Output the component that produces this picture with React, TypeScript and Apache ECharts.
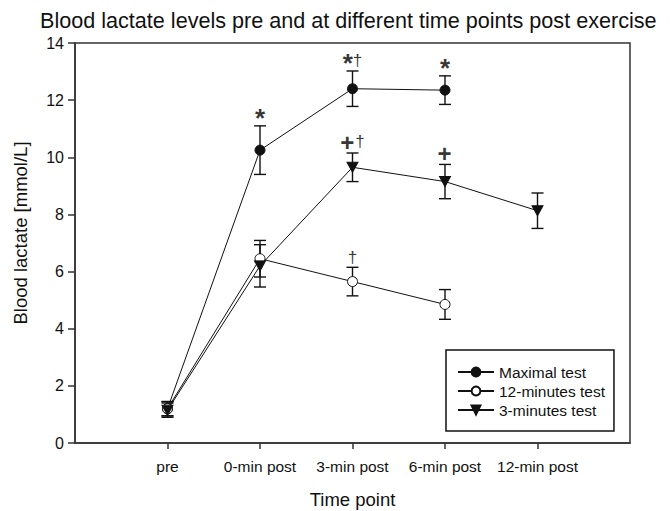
import React, { useEffect, useRef } from "react";
import * as echarts from "echarts";

const categories = ["pre", "0-min post", "3-min post", "6-min post", "12-min post"];
const seriesNames = ["Maximal test", "12-minutes test", "3-minutes test"];
const maximalMean = [1.2, 10.25, 12.4, 12.35, null];
const maximalErr = [0.25, 0.85, 0.62, 0.5, null];
const twelveMean = [1.2, 6.45, 5.65, 4.85, null];
const twelveErr = [0.25, 0.64, 0.5, 0.52, null];
const threeMean = [1.15, 6.2, 9.65, 9.15, 8.13];
const threeErr = [0.25, 0.74, 0.5, 0.6, 0.62];
const yTicks = [0, 2, 4, 6, 8, 10, 12, 14];
// annotation marks: [seriesIndex, categoryIndex, text]
const annotations: [number, number, string][] = [
  [0, 1, "{s|*}"],
  [0, 2, "{s|*}{d|†}"],
  [0, 3, "{s|*}"],
  [2, 2, "{p|+}{d|†}"],
  [2, 3, "{p|+}"],
  [1, 2, "{d|†}"],
];

const FONT = "Liberation Sans, Arial, sans-serif";
const INK = "#111";

export default function App() {
  const ref = useRef<HTMLDivElement>(null);
  useEffect(() => {
    if (!ref.current) return;
    const chart = echarts.init(ref.current, undefined, { renderer: "svg" });
    const axisData = ["", ...categories, ""];
    const pad = (arr: (number | null)[]) => [null, ...arr, null];
    const means = [maximalMean, twelveMean, threeMean];
    const errs = [maximalErr, twelveErr, threeErr];
    const symbols = ["circle", "circle", "path://M0,0 L10,0 L5,9 Z"];
    const fills = [INK, "#fff", INK];

    const lineSeries = seriesNames.map((name, si) => ({
      name,
      type: "line",
      data: pad(means[si]),
      symbol: symbols[si],
      symbolSize: si === 2 ? [11, 10] : 10,
      lineStyle: { color: INK, width: 1 },
      itemStyle: { color: fills[si], borderColor: INK, borderWidth: 1 },
      z: 5,
      silent: true,
    }));

    const errData: number[][] = [];
    means.forEach((m, si) =>
      m.forEach((v, i) => {
        if (v !== null && errs[si][i] !== null) errData.push([i + 1, v, errs[si][i] as number]);
      })
    );

    const errSeries = {
      type: "custom",
      data: errData,
      encode: { x: 0, y: 1 },
      z: 3,
      silent: true,
      renderItem: (params: any, api: any) => {
        const x = api.value(0);
        const y = api.value(1);
        const e = api.value(2);
        const t = api.coord([x, y + e]);
        const b = api.coord([x, y - e]);
        const hw = 6;
        const style = { stroke: INK, lineWidth: 1.4 };
        return {
          type: "group",
          children: [
            { type: "line", shape: { x1: t[0], y1: t[1], x2: b[0], y2: b[1] }, style },
            { type: "line", shape: { x1: t[0] - hw, y1: t[1], x2: t[0] + hw, y2: t[1] }, style },
            { type: "line", shape: { x1: b[0] - hw, y1: b[1], x2: b[0] + hw, y2: b[1] }, style },
          ],
        };
      },
    };

    const annSeries = {
      type: "scatter",
      symbolSize: 0,
      silent: true,
      z: 6,
      itemStyle: { color: INK },
      data: annotations.map(([si, ci, text]) => ({
        value: [ci + 1, (means[si][ci] as number) + (errs[si][ci] as number)],
        name: text,
      })),
      label: {
        show: true,
        position: "top",
        distance: 1,
        color: INK,
        textBorderWidth: 0,
        formatter: (p: any) => p.name,
        rich: {
          s: { fontSize: 26, fontFamily: FONT, color: "#000", fontWeight: "bold", padding: [0, 0, -6, 0] },
          p: { fontSize: 24, fontFamily: FONT, color: "#000", fontWeight: "bold", padding: [0, 1, -2, 0] },
          d: { fontSize: 17, fontFamily: FONT, color: "#000" },
        },
      },
    };

    chart.setOption({
      animation: false,
      backgroundColor: "#fff",
      title: {
        text: "Blood lactate levels pre and at different time points post exercise",
        left: 35,
        top: 4,
        textStyle: { fontFamily: FONT, fontSize: 21.6, fontWeight: "normal", color: INK },
      },
      grid: {
        left: 75,
        right: 40,
        top: 43,
        bottom: 68,
        show: true,
        borderColor: "#333",
        borderWidth: 1.5,
        backgroundColor: "transparent",
        outerBoundsMode: "none",
        containLabel: false,
      },
      legend: {
        data: seriesNames,
        orient: "vertical",
        left: 446,
        top: 350,
        padding: [14, 9, 13, 11],
        borderColor: INK,
        borderWidth: 1.5,
        itemWidth: 36,
        itemHeight: 11,
        itemGap: 3,
        selectedMode: false,
        textStyle: { fontFamily: FONT, fontSize: 15.5, color: INK, lineHeight: 16 },
      },
      xAxis: {
        type: "category",
        data: axisData,
        boundaryGap: false,
        name: "Time point",
        nameLocation: "middle",
        nameGap: 47,
        nameTextStyle: { fontFamily: FONT, fontSize: 18.5, color: INK },
        axisLine: { lineStyle: { color: "#333", width: 1.5 } },
        axisTick: {
          show: true,
          length: 6,
          lineStyle: { color: "#333", width: 1.5 },
          interval: (idx: number, val: string) => val !== "",
        },
        axisLabel: {
          fontFamily: FONT,
          fontSize: 15.5,
          color: INK,
          margin: 15,
          interval: 0,
        },
        splitLine: { show: false },
      },
      yAxis: {
        type: "value",
        min: 0,
        max: 14,
        interval: 2,
        name: "Blood lactate [mmol/L]",
        nameLocation: "middle",
        nameGap: 45,
        nameTextStyle: { fontFamily: FONT, fontSize: 18.5, color: INK, padding: [0, 0, 0, 20] },
        axisLine: { show: true, lineStyle: { color: "#333", width: 1.5 } },
        axisTick: { show: true, length: 7, lineStyle: { color: "#333", width: 1.5 } },
        axisLabel: {
          fontFamily: FONT,
          fontSize: 16,
          color: INK,
          margin: 11,
          formatter: (v: number) => (yTicks.includes(v) ? String(v) : ""),
        },
        splitLine: { show: false },
      },
      series: [errSeries, ...lineSeries, annSeries],
    });
    return () => chart.dispose();
  }, []);
  return <div ref={ref} style={{ width: 670, height: 511, position: "absolute", left: 0, top: 0 }} />;
}
